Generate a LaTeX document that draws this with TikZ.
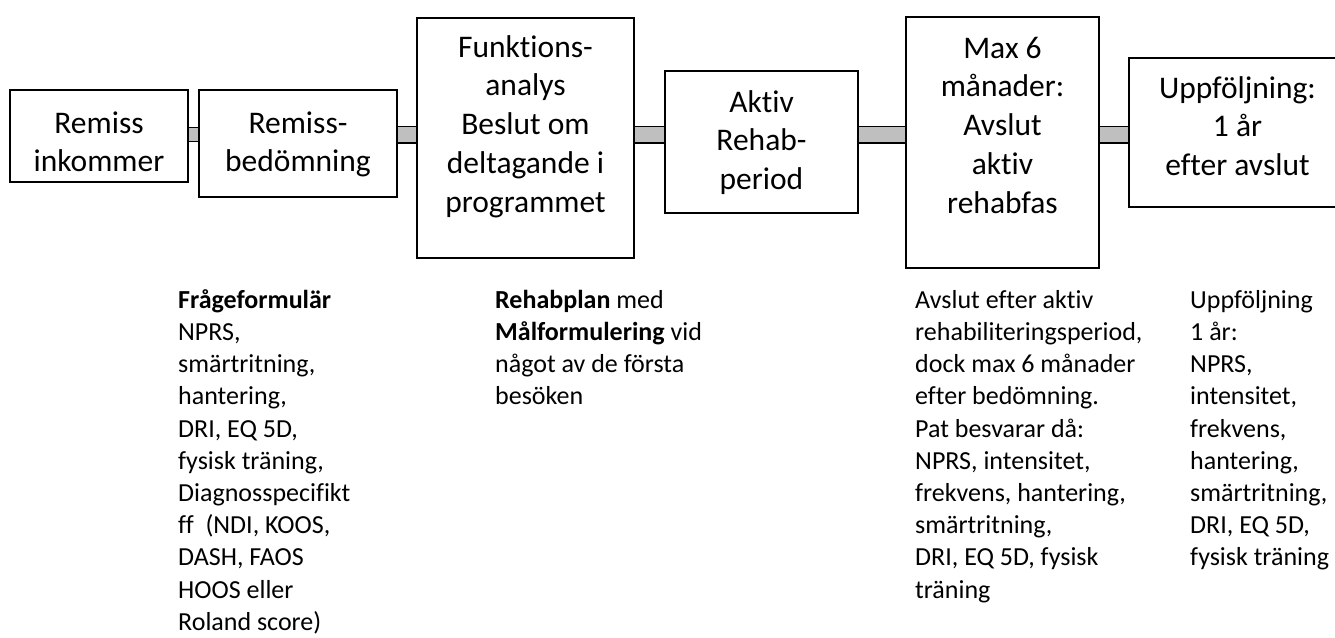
\documentclass[tikz,border=0pt]{standalone}
\usepackage{fontspec}
\setmainfont{Carlito}[Ligatures={TeX,NoCommon}]
\definecolor{barfill}{HTML}{BFBFBF}
\newcommand{\bxt}[4]{\parbox[c][#2][t]{#1}{\centering\vspace*{#3}\strut #4}}
\tikzset{
  box/.style={draw, line width=1.3pt, inner sep=0pt, font=\fontsize{31.5}{38.8}\selectfont},
  bar/.style={draw=black, line width=1.2pt, double=barfill, double distance=#1},
  bar/.default=15.6pt,
  note/.style={anchor=north west, inner sep=0pt, align=left, font=\fontsize{26}{32.2}\selectfont}
}
\begin{document}
\begin{tikzpicture}[x=1pt,y=-1pt]
\clip (0,0) rectangle (1335,637);
\node[box] (b1) at (99,136) {\bxt{178pt}{92pt}{16pt}{Remiss\\inkommer}};
\node[box] (b2) at (298,143.5) {\bxt{198pt}{107pt}{16pt}{Remiss-\\bedömning}};
\node[box] (b3) at (525.5,138) {\bxt{217pt}{240pt}{12pt}{Funktions-\\analys\\Beslut om\\deltagande i\\programmet}};
\node[box] (b4) at (761.5,142) {\bxt{193pt}{142pt}{14pt}{Aktiv\\Rehab-\\period}};
\node[box] (b5) at (1002.5,142.5) {\bxt{193pt}{251pt}{14pt}{Max 6\\månader:\\Avslut\\aktiv\\rehabfas}};
\node[box] (b6) at (1237.5,132.5) {\bxt{217pt}{149pt}{13pt}{Uppföljning:\\1 år\\efter avslut}};
\coordinate (by) at (0,134.5);
\draw[bar=12.6pt] (b1.east |- by) -- (b2.west |- by);
\draw[bar] (b2.east |- by) -- (b3.west |- by);
\draw[bar] (b3.east |- by) -- (b4.west |- by);
\draw[bar] (b4.east |- by) -- (b5.west |- by);
\draw[bar] (b5.east |- by) -- (b6.west |- by);
\node[note] (n1) at (178,285.5) {\strut\textbf{Frågeformulär}\\NPRS,\\smärtritning,\\hantering,\\DRI, EQ 5D,\\fysisk träning,\\Diagnosspecifikt\\ff~ (NDI, KOOS,\\DASH, FAOS\\HOOS eller\\Roland score)};
\node[note] (n2) at (495,285.5) {\strut\textbf{Rehabplan} med\\\textbf{Målformulering} vid\\något av de första\\besöken};
\node[note] (n3) at (915,285.5) {\strut Avslut efter aktiv\\rehabiliteringsperiod,\\dock max 6 månader\\efter bedömning.\\Pat besvarar då:\\NPRS, intensitet,\\frekvens, hantering,\\smärtritning,\\DRI, EQ 5D, fysisk\\träning};
\node[note] (n4) at (1190,285.5) {\strut Uppföljning\\1 år:\\NPRS,\\intensitet,\\frekvens,\\hantering,\\smärtritning,\\DRI, EQ 5D,\\fysisk träning};
\end{tikzpicture}
\end{document}
